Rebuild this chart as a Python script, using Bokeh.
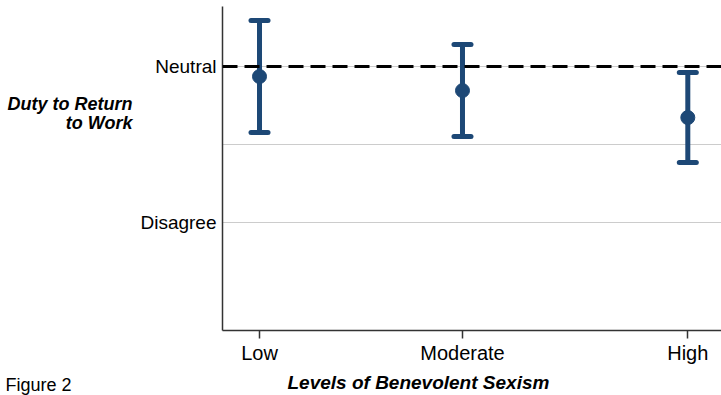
from bokeh.plotting import figure
from bokeh.models import (ColumnDataSource, FixedTicker, Whisker, TeeHead, Range1d, Span,
                          LinearAxis, Title)
from bokeh.embed import file_html
from bokeh.resources import INLINE

# ---- data ----
levels = ["Low", "Moderate", "High"]
level_pos = [1.0, 2.0, 3.11]
means = [2.936, 2.846, 2.673]
upper = [3.295, 3.141, 2.962]
lower = [2.577, 2.551, 2.385]
y_ticks = [2, 3]
y_tick_labels = ["Disagree", "Neutral"]
grid_ticks = [2, 2.5, 3]
reference_value = 3
y_title_lines = ["Duty to Return", "to Work"]
x_title = "Levels of Benevolent Sexism"
caption = "Figure 2"

BLUE = "#1d4876"
FONT = "Liberation Sans"

p = figure(width=721, height=395, output_backend="svg", toolbar_location=None,
           x_range=Range1d(0.8177, 3.276), y_range=Range1d(1.308, 3.385),
           min_border_left=222, min_border_right=0, min_border_top=6, min_border_bottom=65)
p.outline_line_color = None
p.background_fill_color = "white"
p.border_fill_color = "white"

# x axis
p.xaxis.ticker = FixedTicker(ticks=level_pos)
p.xaxis.major_label_overrides = {v: l for v, l in zip(level_pos, levels)}
p.xaxis.major_tick_out = 8
p.xaxis.major_tick_in = 0
p.xaxis.minor_tick_out = 0
p.xaxis.minor_tick_in = 0
p.xaxis.major_label_standoff = 3
p.xaxis.axis_line_color = "#333333"
p.xaxis.axis_line_width = 1.5
p.xaxis.major_tick_line_color = "#333333"
p.xaxis.major_tick_line_width = 1.5
p.xaxis.major_label_text_font = FONT
p.xaxis.major_label_text_font_size = "20px"
p.xaxis.major_label_text_color = "black"

# y axis
p.yaxis.ticker = FixedTicker(ticks=y_ticks)
p.yaxis.major_label_overrides = {v: l for v, l in zip(y_ticks, y_tick_labels)}
p.yaxis.major_tick_out = 0
p.yaxis.major_tick_in = 0
p.yaxis.minor_tick_out = 0
p.yaxis.minor_tick_in = 0
p.yaxis.major_label_standoff = 6
p.yaxis.axis_line_color = "#333333"
p.yaxis.axis_line_width = 1.5
p.yaxis.major_label_text_font = FONT
p.yaxis.major_label_text_font_size = "19px"
p.yaxis.major_label_text_color = "black"

# outer left "axis" carrying the horizontal y title (two lines, right aligned)
title_y_at = [2.763, 2.641]
ytitle_axis = LinearAxis(ticker=FixedTicker(ticks=title_y_at),
                         major_label_overrides={v: t for v, t in zip(title_y_at, y_title_lines)},
                         axis_line_color=None, major_tick_line_color=None,
                         minor_tick_line_color=None, major_tick_out=0, major_tick_in=0,
                         minor_tick_out=0, minor_tick_in=0, major_label_standoff=5,
                         major_label_text_font=FONT, major_label_text_font_size="18px",
                         major_label_text_font_style="bold italic",
                         major_label_text_color="black")
p.add_layout(ytitle_axis, "left")

p.xgrid.grid_line_color = None
p.ygrid.ticker = FixedTicker(ticks=grid_ticks)
p.ygrid.grid_line_color = "#cccccc"
p.ygrid.grid_line_width = 1.2

# reference line
p.add_layout(Span(location=reference_value, dimension="width", line_color="black",
                  line_width=3, line_dash="15 7"))

src = ColumnDataSource(dict(x=level_pos, m=means, up=upper, lo=lower))

head = dict(size=17, line_width=5, line_color=BLUE, line_cap="round")
w = Whisker(source=src, base="x", upper="up", lower="lo", dimension="height",
            line_color=BLUE, line_width=5,
            upper_head=TeeHead(**head), lower_head=TeeHead(**head))
p.add_layout(w)
p.scatter("x", "m", source=src, size=14, fill_color=BLUE, line_color=BLUE)

# bottom texts
p.add_layout(Title(text=x_title, align="left", offset=65, standoff=6,
                   text_font=FONT, text_font_style="bold italic", text_font_size="19px",
                   text_color="black"), "below")
p.add_layout(Title(text=caption, align="left", offset=-217, standoff=-41,
                   vertical_align="top",
                   text_font=FONT, text_font_style="normal", text_font_size="18px",
                   text_color="black"), "below")

open("out.html", "w").write(file_html(p, INLINE))
